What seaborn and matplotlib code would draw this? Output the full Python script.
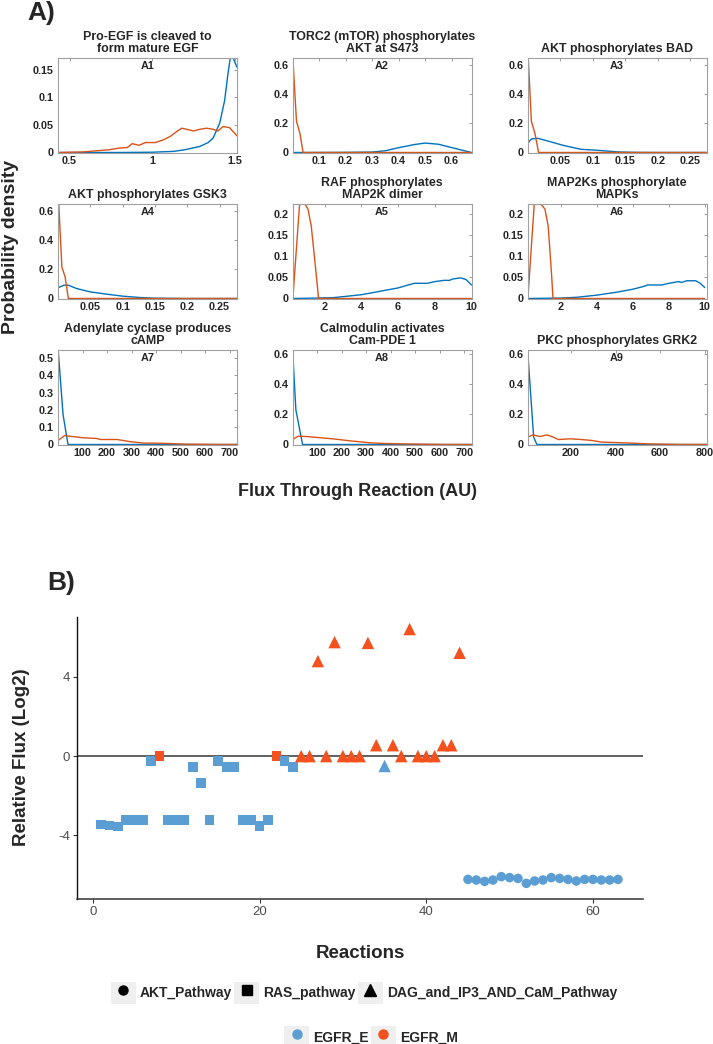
import pandas as pd
import seaborn as sns
import matplotlib.pyplot as plt
from matplotlib.lines import Line2D
from matplotlib.patches import Patch
from matplotlib.legend_handler import HandlerTuple

sns.set_style("white")
plt.rcParams['font.family'] = ['Liberation Sans', 'DejaVu Sans']
plt.rcParams['axes.unicode_minus'] = False

BLUE = '#0072BD'
ORANGE = '#D95319'
E_COL = '#5a9ed3'
M_COL = '#f4511e'

# ---------------- panel A data ----------------
a_titles = ["Pro-EGF is cleaved to\nform mature EGF",
            "TORC2 (mTOR) phosphorylates\nAKT at S473",
            "AKT phosphorylates BAD",
            "AKT phosphorylates GSK3",
            "RAF phosphorylates\nMAP2K dimer",
            "MAP2Ks phosphorylate\nMAPKs",
            "Adenylate cyclase produces\ncAMP",
            "Calmodulin activates\nCam-PDE 1",
            "PKC phosphorylates GRK2"]
a_tags = ["A1", "A2", "A3", "A4", "A5", "A6", "A7", "A8", "A9"]

a1_blue_x = [0.43, 0.8, 1.0, 1.13, 1.2, 1.29, 1.34, 1.37, 1.41, 1.44, 1.46, 1.474, 1.485, 1.5, 1.515]
a1_blue_y = [0, 0, 0.0005, 0.002, 0.005, 0.011, 0.018, 0.026, 0.053, 0.094, 0.142, 0.171, 0.176, 0.165, 0.154]
a1_orange_x = [0.43, 0.58, 0.74, 0.80, 0.85, 0.88, 0.92, 0.96, 1.02, 1.07, 1.11, 1.15, 1.18,
               1.21, 1.25, 1.29, 1.33, 1.37, 1.40, 1.43, 1.47, 1.515]
a1_orange_y = [0, 0.001, 0.005, 0.008, 0.009, 0.016, 0.013, 0.018, 0.018, 0.023, 0.029, 0.038, 0.044,
               0.042, 0.039, 0.042, 0.044, 0.042, 0.039, 0.047, 0.045, 0.030]

a2_blue_x = [0, 0.04, 0.2, 0.3, 0.35, 0.4, 0.46, 0.5, 0.55, 0.6, 0.65, 0.675]
a2_blue_y = [0, 0, 0.001, 0.003, 0.012, 0.033, 0.055, 0.065, 0.057, 0.034, 0.011, 0.0]
a2_orange_x = [0.001, 0.015, 0.0275, 0.04, 0.675]
a2_orange_y = [0.66, 0.216, 0.136, 0, 0]

a3_blue_x = [0.001, 0.006, 0.0157, 0.029, 0.055, 0.082, 0.105, 0.139, 0.165, 0.2, 0.275]
a3_blue_y = [0.067, 0.093, 0.098, 0.082, 0.049, 0.022, 0.016, 0.004, 0.001, 0, 0]
a3_orange_x = [0.001, 0.006, 0.0115, 0.017, 0.275]
a3_orange_y = [0.66, 0.215, 0.13, 0, 0]

a4_blue_x = [0.001, 0.009, 0.016, 0.029, 0.05, 0.075, 0.1, 0.126, 0.15, 0.2, 0.277]
a4_blue_y = [0.075, 0.091, 0.091, 0.068, 0.045, 0.03, 0.016, 0.007, 0.002, 0, 0]
a4_orange_x = [0.001, 0.006, 0.011, 0.016, 0.277]
a4_orange_y = [0.66, 0.216, 0.148, 0, 0]

a5_blue_x = [0.27, 1.5, 2.45, 3.37, 4.0, 4.64, 5.37, 6.0, 6.55, 6.9, 7.6, 8.0, 8.5, 8.8, 8.96, 9.4, 9.7, 10]
a5_blue_y = [0, 0.001, 0.002, 0.006, 0.009, 0.014, 0.02, 0.025, 0.032, 0.036, 0.036, 0.04, 0.043,
             0.043, 0.046, 0.049, 0.045, 0.032]
a5_orange_x = [0.27, 0.64, 0.9, 1.09, 1.27, 1.45, 1.67, 10]
a5_orange_y = [0, 0.226, 0.226, 0.212, 0.172, 0.097, 0, 0]

a6_blue_x = [0.15, 2.0, 2.9, 4.0, 5.1, 6.0, 6.55, 6.83, 7.6, 8.0, 8.55, 8.7, 9.0, 9.5, 9.75, 10]
a6_blue_y = [0, 0.001, 0.003, 0.008, 0.015, 0.022, 0.028, 0.032, 0.032, 0.036, 0.04, 0.038, 0.042,
             0.042, 0.036, 0.026]
a6_orange_x = [0.15, 0.51, 0.82, 1.1, 1.28, 1.46, 1.55, 10]
a6_orange_y = [0, 0.226, 0.226, 0.212, 0.172, 0.064, 0, 0]

a7_blue_x = [0, 20.6, 31.7, 41, 730]
a7_blue_y = [0.56, 0.174, 0.077, 0, 0]
a7_orange_x = [0, 27.5, 48, 103, 158, 172, 241, 296, 351, 393, 448, 516, 585, 650, 730]
a7_orange_y = [0.023, 0.052, 0.048, 0.039, 0.035, 0.029, 0.029, 0.016, 0.008, 0.008, 0.006, 0.002,
               0.001, 0, 0]

a8_blue_x = [0, 13.7, 27.4, 41, 730]
a8_blue_y = [0.64, 0.23, 0.115, 0, 0]
a8_orange_x = [0, 23, 58, 168, 236, 318, 373, 455, 537, 620, 730]
a8_orange_y = [0.033, 0.055, 0.053, 0.037, 0.024, 0.011, 0.007, 0.004, 0.002, 0, 0]

a9_blue_x = [5, 32.6, 47, 808]
a9_blue_y = [0.64, 0.049, 0, 0]
a9_orange_x = [5, 30, 62, 92, 114, 144, 196, 248, 293, 338, 400, 474, 548, 622, 696, 808]
a9_orange_y = [0.049, 0.064, 0.053, 0.064, 0.053, 0.033, 0.038, 0.033, 0.027, 0.016, 0.013, 0.009,
               0.004, 0.002, 0, 0]

a_xlims = [(0.43, 1.515), (0, 0.675), (0, 0.275), (0, 0.277), (0.25, 10), (0.13, 10.1),
           (0, 730), (0, 730), (5, 808)]
a_ylims = [(0, 0.172), (0, 0.655), (0, 0.655), (0, 0.65), (0, 0.225), (0, 0.225),
           (0, 0.55), (0, 0.63), (0, 0.633)]
a_xticks = [[0.5, 1, 1.5], [0.1, 0.2, 0.3, 0.4, 0.5, 0.6], [0.05, 0.1, 0.15, 0.2, 0.25],
            [0.05, 0.1, 0.15, 0.2, 0.25], [2, 4, 6, 8, 10], [2, 4, 6, 8, 10],
            [100, 200, 300, 400, 500, 600, 700], [100, 200, 300, 400, 500, 600, 700],
            [200, 400, 600, 800]]
a_yticks = [[0, 0.05, 0.1, 0.15], [0, 0.2, 0.4, 0.6], [0, 0.2, 0.4, 0.6], [0, 0.2, 0.4, 0.6],
            [0, 0.05, 0.1, 0.15, 0.2], [0, 0.05, 0.1, 0.15, 0.2],
            [0, 0.1, 0.2, 0.3, 0.4, 0.5], [0, 0.2, 0.4, 0.6], [0, 0.2, 0.4, 0.6]]

a_blue = [(a1_blue_x, a1_blue_y), (a2_blue_x, a2_blue_y), (a3_blue_x, a3_blue_y),
          (a4_blue_x, a4_blue_y), (a5_blue_x, a5_blue_y), (a6_blue_x, a6_blue_y),
          (a7_blue_x, a7_blue_y), (a8_blue_x, a8_blue_y), (a9_blue_x, a9_blue_y)]
a_orange = [(a1_orange_x, a1_orange_y), (a2_orange_x, a2_orange_y), (a3_orange_x, a3_orange_y),
            (a4_orange_x, a4_orange_y), (a5_orange_x, a5_orange_y), (a6_orange_x, a6_orange_y),
            (a7_orange_x, a7_orange_y), (a8_orange_x, a8_orange_y), (a9_orange_x, a9_orange_y)]

# ---------------- panel B data ----------------
reaction = list(range(1, 64))
flux = [-3.45, -3.5, -3.56, -3.22, -3.22, -3.22, -0.25, 0.0, -3.22, -3.22,
        -3.22, -0.55, -1.36, -3.22, -0.25, -0.55, -0.55, -3.22, -3.22, -3.53,
        -3.22, 0.0, -0.25, -0.55,
        0.0, 0.0, 4.8, 0.0, 5.76, 0.0, 0.0, 0.0, 5.72, 0.55,
        -0.5, 0.55, 0.0, 6.42, 0.0, 0.0, 0.0, 0.55, 0.55, 5.22,
        -6.23, -6.26, -6.33, -6.26, -6.09, -6.14, -6.18, -6.43, -6.31, -6.26,
        -6.14, -6.18, -6.23, -6.31, -6.23, -6.23, -6.26, -6.26, -6.23]
pathway = (["RAS_pathway"] * 24 + ["DAG_and_IP3_AND_CaM_Pathway"] * 20 + ["AKT_Pathway"] * 19)
condition = (["EGFR_E"] * 7 + ["EGFR_M"] + ["EGFR_E"] * 13 + ["EGFR_M"] + ["EGFR_E"] * 2
             + ["EGFR_M"] * 10 + ["EGFR_E"] + ["EGFR_M"] * 9 + ["EGFR_E"] * 19)
pathway_order = ["AKT_Pathway", "RAS_pathway", "DAG_and_IP3_AND_CaM_Pathway"]
condition_order = ["EGFR_E", "EGFR_M"]

df = pd.DataFrame({"reaction": reaction, "flux": flux, "pathway": pathway, "condition": condition})

# ---------------- figure ----------------
fig = plt.figure(figsize=(7.13, 10.44), dpi=100)
W, H = 713.0, 1044.0
col_left = [58, 292.5, 527.5]
row_bottom = [152.5, 298.5, 444.5]

for i in range(9):
    r, c = divmod(i, 3)
    ax = fig.add_axes([col_left[c] / W, 1 - row_bottom[r] / H, 179 / W, 95 / H])
    bx, by = a_blue[i]
    ox, oy = a_orange[i]
    sns.lineplot(x=bx, y=by, ax=ax, color=BLUE, linewidth=1.0)
    sns.lineplot(x=ox, y=oy, ax=ax, color=ORANGE, linewidth=1.0)
    ax.set_xlim(*a_xlims[i])
    ax.set_ylim(*a_ylims[i])
    ax.set_xticks(a_xticks[i])
    ax.set_yticks(a_yticks[i])
    ax.set_xticklabels(['{:g}'.format(v) for v in a_xticks[i]])
    ax.set_yticklabels(['{:g}'.format(v) for v in a_yticks[i]])
    ax.tick_params(direction='in', length=2.5, width=0.6, color='#8a8a8a',
                   labelsize=7.8, labelcolor='#262626', top=True, right=True)
    ax.tick_params(axis='x', pad=2.5)
    ax.tick_params(axis='y', pad=3)
    for lab in ax.get_xticklabels() + ax.get_yticklabels():
        lab.set_fontweight('bold')
    for sp in ax.spines.values():
        sp.set_color('#a0a0a0')
        sp.set_linewidth(0.8)
    ax.set_title(a_titles[i], fontsize=8.9, fontweight='bold', pad=4, linespacing=0.95)
    ax.text(0.5, 0.915, a_tags[i], transform=ax.transAxes, ha='center', va='center',
            fontsize=7.8, fontweight='bold')
    ax.set_xlabel('')
    ax.set_ylabel('')

fig.text(27 / W, 1 - 1 / H, "A)", fontsize=19, fontweight='bold', ha='left', va='top')
fig.text(11 / W, 1 - 247 / H, "Probability density", rotation=90, fontsize=14,
         fontweight='bold', ha='center', va='center')
fig.text(357 / W, 1 - 492 / H, "Flux Through Reaction (AU)", fontsize=13,
         fontweight='bold', ha='center', va='center')

# ---------------- panel B ----------------
fig.text(47 / W, 1 - 571 / H, "B)", fontsize=19, fontweight='bold', ha='left', va='top')
axb = fig.add_axes([77 / W, 1 - 898.6 / H, 566 / W, 282 / H])
axb.axhline(0, color='#444444', linewidth=1.2, zorder=1)
sns.scatterplot(data=df, x="reaction", y="flux", hue="condition", style="pathway",
                size="pathway", hue_order=condition_order, style_order=pathway_order,
                palette={"EGFR_E": E_COL, "EGFR_M": M_COL},
                markers={"AKT_Pathway": "o", "RAS_pathway": "s", "DAG_and_IP3_AND_CaM_Pathway": "^"},
                sizes={"AKT_Pathway": 47, "RAS_pathway": 46, "DAG_and_IP3_AND_CaM_Pathway": 80},
                linewidth=0, legend=False, ax=axb, zorder=3)
axb.set_xlim(-1.9, 66)
axb.set_ylim(-7.2, 7.05)
axb.set_xticks([0, 20, 40, 60])
axb.set_yticks([-4, 0, 4])
axb.tick_params(direction='out', length=3, width=0.8, color='#333333',
                labelsize=9.5, labelcolor='#4d4d4d', left=True, bottom=True, pad=2)
axb.spines['top'].set_visible(False)
axb.spines['right'].set_visible(False)
axb.spines['left'].set_color('#111111')
axb.spines['bottom'].set_color('#333333')
axb.spines['left'].set_linewidth(1.0)
axb.spines['bottom'].set_linewidth(1.1)
axb.set_xlabel("Reactions", fontsize=13.5, fontweight='bold')
axb.set_ylabel("Relative Flux (Log2)", fontsize=13.5, fontweight='bold')
axb.xaxis.set_label_coords(0.5, -0.165)
axb.yaxis.set_label_coords(-0.083, 0.5)

key_bg = '#efefef'
shape_handles = [(Patch(facecolor=key_bg, edgecolor='none'),
                  Line2D([], [], marker=m, ls='', color='black', markersize=ms))
                 for m, ms in zip(["o", "s", "^"], [6.5, 6.5, 8.5])]
color_handles = [(Patch(facecolor=key_bg, edgecolor='none'),
                  Line2D([], [], marker='o', ls='', color=col, markersize=6.5))
                 for col in [E_COL, M_COL]]
leg_kw = dict(loc='center', frameon=False, columnspacing=0.15, handletextpad=0.3,
              handlelength=1.8, handleheight=1.95, borderpad=0,
              prop={'size': 10, 'weight': 'bold'},
              handler_map={tuple: HandlerTuple(ndivide=1, pad=0)})
fig.legend(shape_handles, pathway_order, ncol=3, bbox_to_anchor=(364 / W, 1 - 993 / H), **leg_kw)
fig.legend(color_handles, condition_order, ncol=2, bbox_to_anchor=(371 / W, 1 - 1037 / H), **leg_kw)

plt.savefig("out.png", dpi=100)
